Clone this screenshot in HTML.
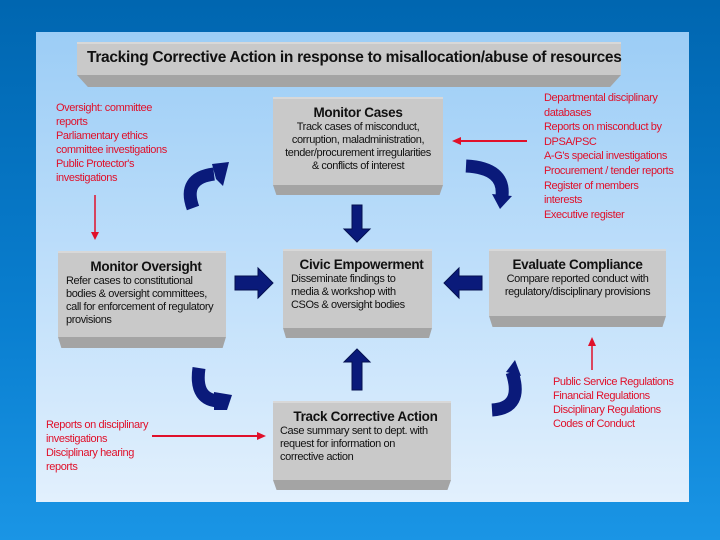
<!DOCTYPE html>
<html><head><style>
body{margin:0;width:720px;height:540px;overflow:hidden;background:linear-gradient(#0066b0,#0a7fd0 60%,#1a95e5);font-family:"Liberation Sans",sans-serif;position:relative}
#panel{position:absolute;left:36px;top:32px;width:653px;height:470px;background:linear-gradient(#9ccdf6,#c5e2fb 60%,#e2f0fd)}
.box{position:absolute;background:#c9c9c9;text-align:center;color:#111;font-size:11px;line-height:13px;letter-spacing:-0.4px;box-sizing:border-box;padding-top:6px;border-top:2px solid #d8d8d8;white-space:nowrap}
.box b{font-size:13.5px;display:block;line-height:16px;letter-spacing:-0.3px}
.bev{position:absolute;background:#a4a4a4;clip-path:polygon(0 0,100% 0,98% 100%,2% 100%)}
.red{position:absolute;color:#e0102a;font-size:11px;line-height:14px;letter-spacing:-0.4px;white-space:nowrap}
</style></head><body>
<div id="panel"></div>
<div class="box" style="left:77px;top:42px;width:544px;height:33px;padding-top:6px;text-align:left;padding-left:10px"><b style="font-size:15.5px;letter-spacing:-0.3px">Tracking Corrective Action in response to misallocation/abuse of resources</b></div>
<div class="bev" style="left:77px;top:75px;width:544px;height:12px"></div>

<div class="box" style="left:273px;top:97px;width:170px;height:88px;padding-top:6px"><b>Monitor Cases</b>Track cases of misconduct,<br>corruption, maladministration,<br>tender/procurement irregularities<br>&amp; conflicts of interest</div>
<div class="bev" style="left:273px;top:185px;width:170px;height:10px"></div>

<div class="box" style="left:58px;top:251px;width:168px;height:86px;text-align:left;padding-left:8px"><b style="text-align:center">Monitor Oversight</b>Refer cases to constitutional<br>bodies &amp; oversight committees,<br>call for enforcement of regulatory<br>provisions</div>
<div class="bev" style="left:58px;top:337px;width:168px;height:11px"></div>

<div class="box" style="left:283px;top:249px;width:149px;height:79px;text-align:left;padding-left:8px"><b style="text-align:center">Civic Empowerment</b>Disseminate findings to<br>media &amp; workshop with<br>CSOs &amp; oversight bodies</div>
<div class="bev" style="left:283px;top:328px;width:149px;height:10px"></div>

<div class="box" style="left:489px;top:249px;width:177px;height:67px"><b>Evaluate Compliance</b>Compare reported conduct with<br>regulatory/disciplinary provisions</div>
<div class="bev" style="left:489px;top:316px;width:177px;height:11px"></div>

<div class="box" style="left:273px;top:401px;width:178px;height:79px;text-align:left;padding-left:7px"><b style="text-align:center">Track Corrective Action</b>Case summary sent to dept. with<br>request for information on<br>corrective action</div>
<div class="bev" style="left:273px;top:480px;width:178px;height:10px"></div>

<div class="red" style="left:56px;top:101px">Oversight: committee<br>reports<br>Parliamentary ethics<br>committee investigations<br>Public Protector's<br>investigations</div>
<div class="red" style="left:544px;top:91px;line-height:14.6px">Departmental disciplinary<br>databases<br>Reports on misconduct by<br>DPSA/PSC<br>A-G's special investigations<br>Procurement / tender reports<br>Register of members<br>interests<br>Executive register</div>
<div class="red" style="left:46px;top:418px">Reports on disciplinary<br>investigations<br>Disciplinary hearing<br>reports</div>
<div class="red" style="left:553px;top:375px">Public Service Regulations<br>Financial Regulations<br>Disciplinary Regulations<br>Codes of Conduct</div>

<svg width="720" height="540" style="position:absolute;left:0;top:0">
<g stroke="#e0102a" fill="#e0102a" stroke-width="1.5">
<line x1="95" y1="195" x2="95" y2="233"/><polygon points="91,232 99,232 95,240" stroke="none"/>
<line x1="527" y1="141" x2="460" y2="141" stroke-width="2"/><polygon points="461,137 461,145 452,141" stroke="none"/>
<line x1="152" y1="436" x2="258" y2="436" stroke-width="2"/><polygon points="257,432 257,440 266,436" stroke="none"/>
<line x1="592" y1="370" x2="592" y2="345"/><polygon points="588,346 596,346 592,337" stroke="none"/>
</g>
<g fill="#0a1a7a" stroke="#041050" stroke-width="1">
<polygon points="352,205 362,205 362,229 370,229 357,242 344,229 352,229"/>
<polygon points="352,390 362,390 362,362 370,362 357,349 344,362 352,362"/>
<polygon points="235,276 258,276 258,268 273,283 258,298 258,290 235,290"/>
<polygon points="482,276 459,276 459,268 444,283 459,298 459,290 482,290"/>
</g>
<g fill="none" stroke="#0a1a7a" stroke-width="13">
<path d="M193,208 Q182,178 214,174"/>
<path d="M466,166 Q505,168 502,196"/>
<path d="M199,368 Q194,402 222,401"/>
<path d="M512,372 Q524,408 492,410"/>
</g>
<g fill="#0a1a7a">
<polygon points="212,164 229,162 223,186 216,179"/>
<polygon points="492,194 512,196 500,209"/>
<polygon points="214,392 232,395 227,410 214,410"/>
<polygon points="506,372 515,360 521,376"/>
</g>
</svg>
</body></html>
